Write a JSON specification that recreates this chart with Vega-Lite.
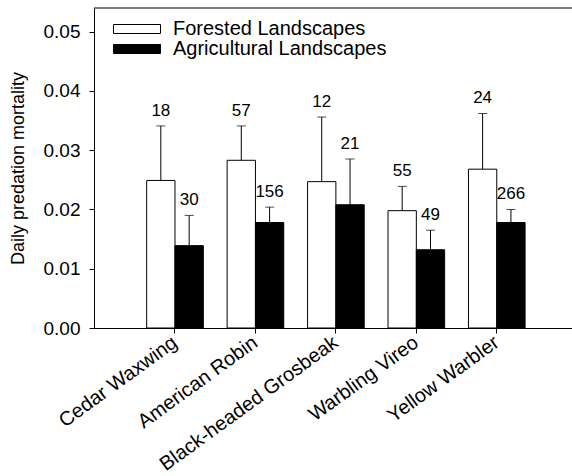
{
  "$schema": "https://vega.github.io/schema/vega-lite/v6.json",
  "autosize": "none",
  "width": 478,
  "height": 320,
  "padding": {"left": 94, "top": 8, "right": 0, "bottom": 148},
  "background": "white",
  "config": {
    "font": "Liberation Sans",
    "view": {"stroke": null},
    "axis": {"labelColor": "black", "domainColor": "black", "tickColor": "black", "titleColor": "black", "grid": false, "labelFont": "Liberation Sans", "titleFont": "Liberation Sans", "labelLimit": 0},
    "legend": {"labelFont": "Liberation Sans", "labelColor": "black", "labelLimit": 0}
  },
  "data": {"values": [
    {"species": "Cedar Waxwing", "landscape": "Forested Landscapes", "mean": 0.0249, "upper": 0.0341, "n": "18"},
    {"species": "Cedar Waxwing", "landscape": "Agricultural Landscapes", "mean": 0.0139, "upper": 0.0190, "n": "30"},
    {"species": "American Robin", "landscape": "Forested Landscapes", "mean": 0.0283, "upper": 0.0341, "n": "57"},
    {"species": "American Robin", "landscape": "Agricultural Landscapes", "mean": 0.0178, "upper": 0.0204, "n": "156"},
    {"species": "Black-headed Grosbeak", "landscape": "Forested Landscapes", "mean": 0.0247, "upper": 0.0356, "n": "12"},
    {"species": "Black-headed Grosbeak", "landscape": "Agricultural Landscapes", "mean": 0.0208, "upper": 0.0285, "n": "21"},
    {"species": "Warbling Vireo", "landscape": "Forested Landscapes", "mean": 0.0198, "upper": 0.0239, "n": "55"},
    {"species": "Warbling Vireo", "landscape": "Agricultural Landscapes", "mean": 0.0132, "upper": 0.0165, "n": "49"},
    {"species": "Yellow Warbler", "landscape": "Forested Landscapes", "mean": 0.0268, "upper": 0.0362, "n": "24"},
    {"species": "Yellow Warbler", "landscape": "Agricultural Landscapes", "mean": 0.0178, "upper": 0.0200, "n": "266"}
  ]},
  "layer": [
    {
      "mark": {"type": "bar", "stroke": "black", "strokeWidth": 1},
      "encoding": {
        "x": {"field": "species", "type": "nominal", "sort": null,
          "scale": {"paddingInner": 0.296, "paddingOuter": 0.619, "align": 0.529},
          "axis": {"title": null, "labelAngle": -36, "labelAlign": "right", "labelBaseline": "middle", "labelFontSize": 20, "tickSize": 5, "labelPadding": 7, "domainColor": "black"}},
        "xOffset": {"field": "landscape", "type": "nominal", "sort": null,
          "scale": {"domain": ["Forested Landscapes", "Agricultural Landscapes"], "paddingInner": 0, "paddingOuter": 0}},
        "y": {"field": "mean", "type": "quantitative",
          "scale": {"domain": [0, 0.054], "nice": false, "zero": true},
          "axis": {"title": "Daily predation mortality", "values": [0, 0.01, 0.02, 0.03, 0.04, 0.05], "format": ".2f", "labelFontSize": 19, "tickSize": 5, "labelPadding": 9, "titleFontSize": 18, "titleFontWeight": "normal", "titlePadding": 16}},
        "fill": {"field": "landscape", "type": "nominal", "sort": null,
          "scale": {"domain": ["Forested Landscapes", "Agricultural Landscapes"], "range": ["white", "black"]},
          "legend": {"title": null, "orient": "none", "legendX": 33, "legendY": 11, "symbolType": "M-2.61,-0.5H2.61V0.5H-2.61Z", "symbolSize": 324, "symbolStrokeColor": "black", "symbolStrokeWidth": 1, "labelFontSize": 20, "labelOffset": 26, "rowPadding": -1}}
      }
    },
    {
      "mark": {"type": "rule", "color": "black", "strokeWidth": 1},
      "encoding": {
        "x": {"field": "species", "type": "nominal", "sort": null},
        "xOffset": {"field": "landscape", "type": "nominal", "sort": null},
        "y": {"field": "upper", "type": "quantitative"},
        "y2": {"field": "mean"}
      }
    },
    {
      "mark": {"type": "tick", "color": "black", "orient": "horizontal", "size": 9, "thickness": 1},
      "encoding": {
        "x": {"field": "species", "type": "nominal", "sort": null},
        "xOffset": {"field": "landscape", "type": "nominal", "sort": null},
        "y": {"field": "upper", "type": "quantitative"}
      }
    },
    {
      "mark": {"type": "text", "color": "black", "fontSize": 17, "dy": -10, "baseline": "alphabetic", "align": "center"},
      "encoding": {
        "x": {"field": "species", "type": "nominal", "sort": null},
        "xOffset": {"field": "landscape", "type": "nominal", "sort": null},
        "y": {"field": "upper", "type": "quantitative"},
        "text": {"field": "n"}
      }
    },
    {
      "data": {"values": [{"top": 0.054}]},
      "mark": {"type": "rule", "color": "black", "strokeWidth": 1},
      "encoding": {"y": {"field": "top", "type": "quantitative"}}
    }
  ]
}
